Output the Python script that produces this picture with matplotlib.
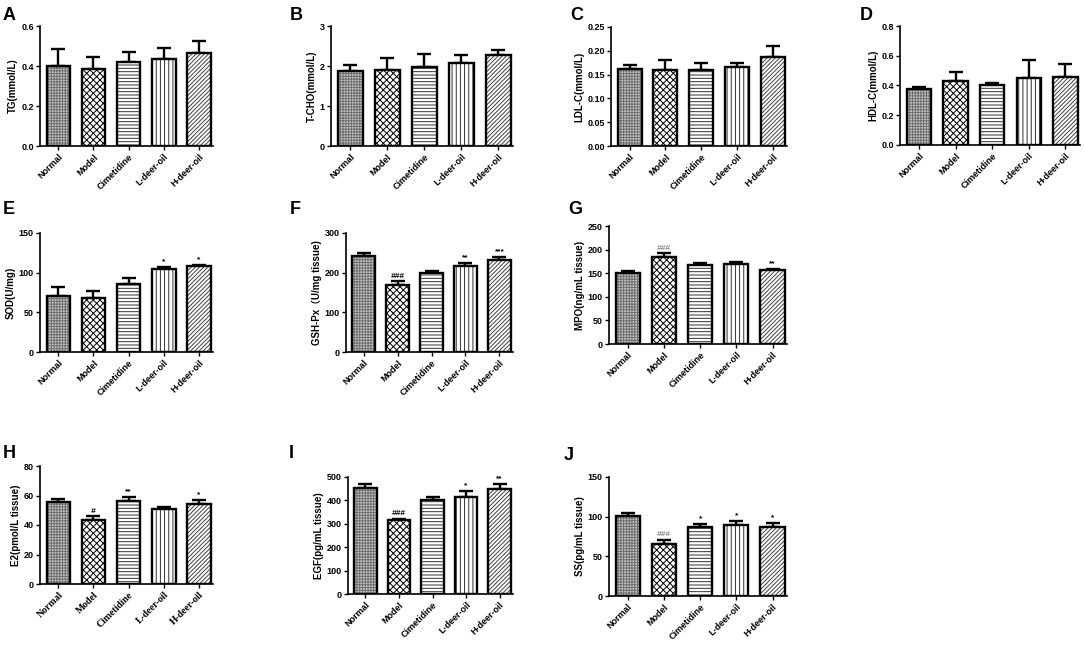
import numpy as np
import matplotlib
matplotlib.use('Agg')
import matplotlib.pyplot as plt

W, H = 1084, 645

groups = ['Normal', 'Model', 'Cimetidine', 'L-deer-oil', 'H-deer-oil']

# mean and upper error (SEM)
tg = [0.401, 0.383, 0.418, 0.435, 0.466]
tg_err = [0.082, 0.060, 0.053, 0.055, 0.060]
tcho = [1.88, 1.90, 1.97, 2.08, 2.27]
tcho_err = [0.14, 0.31, 0.34, 0.19, 0.14]
ldl = [0.161, 0.160, 0.159, 0.165, 0.186]
ldl_err = [0.010, 0.020, 0.016, 0.010, 0.024]
hdl = [0.378, 0.433, 0.400, 0.448, 0.455]
hdl_err = [0.010, 0.057, 0.020, 0.126, 0.090]
sod = [70.0, 68.0, 86.0, 104.0, 108.0]
sod_err = [12.5, 8.5, 7.0, 3.0, 2.0]
gsh = [241.0, 170.0, 200.0, 217.0, 233.0]
gsh_err = [8.0, 8.0, 5.0, 7.0, 6.0]
mpo = [151.0, 184.0, 168.0, 169.0, 156.0]
mpo_err = [3.0, 8.0, 4.0, 4.0, 2.0]
e2 = [55.7, 43.7, 56.5, 51.0, 54.5]
e2_err = [2.0, 2.2, 2.7, 1.0, 2.4]
egf = [455.0, 315.0, 400.0, 415.0, 449.0]
egf_err = [14.0, 7.0, 14.0, 24.0, 20.0]
ss = [100.5, 66.0, 87.5, 89.5, 87.5]
ss_err = [3.5, 5.0, 3.5, 5.5, 4.5]

sod_marks = ['', '', '', '*', '*']
gsh_marks = ['', '###', '', '**', '***']
mpo_marks = ['', '###', '', '', '**']
e2_marks = ['', '#', '**', '', '*']
egf_marks = ['', '###', '', '*', '**']
ss_marks = ['', '###', '*', '*', '*']

# fill, hatch, hatch colour for each group
styles = [('#c4c4c4', '++++++', '#6e6e6e'),
          ('white', 'xxxxx', 'black'),
          ('white', '-----', '#303030'),
          ('white', '||||', '#303030'),
          ('white', '////////', '#404040')]

plt.rcParams['hatch.linewidth'] = 0.7
sans = ['Liberation Sans', 'Noto Sans CJK SC', 'DejaVu Sans']
serif = ['Liberation Serif', 'DejaVu Serif']

fig = plt.figure(figsize=(W / 100, H / 100), dpi=100)


def px_axes(x0, y0, x1, y1):
    return fig.add_axes([x0 / W, 1 - y1 / H, (x1 - x0) / W, (y1 - y0) / H])


def panel(box, letter, lpos, ylabel, vals, errs, yticks, fmt, marks=None,
          mark_color='black', tick_family=None):
    ax = px_axes(*box)
    x = np.arange(len(groups))
    for i in range(len(groups)):
        fc, hatch, hc = styles[i]
        ax.bar(x[i], vals[i], width=0.67, color=fc, edgecolor=hc, hatch=hatch,
               linewidth=0, zorder=2)
        ax.bar(x[i], vals[i], width=0.67, fill=False, edgecolor='black',
               linewidth=1.7, zorder=3)
    ax.errorbar(x, vals, yerr=[np.zeros(len(vals)), errs], fmt='none',
                ecolor='black', elinewidth=1.7, capsize=5, capthick=1.7, zorder=1)
    ax.set_xlim(-0.52, 4.4)
    ax.set_ylim(0, yticks[-1])
    ax.set_yticks(yticks)
    ax.set_yticklabels([fmt % t for t in yticks], fontsize=6.5,
                       fontweight='bold', family=sans)
    ax.set_xticks(x)
    ax.set_xticklabels(groups, rotation=45, ha='right', rotation_mode='anchor',
                       fontsize=7 if tick_family else 6.5, fontweight='bold',
                       family=tick_family or sans)
    ax.set_ylabel(ylabel, fontsize=7, fontweight='bold', family=sans, labelpad=2)
    for s in ['top', 'right']:
        ax.spines[s].set_visible(False)
    for s in ['left', 'bottom']:
        ax.spines[s].set_linewidth(1.2)
    ax.tick_params(axis='both', length=3, width=1, pad=1.5)
    if marks:
        span = yticks[-1]
        for i in range(len(groups)):
            if marks[i]:
                hashes = marks[i].startswith('#')
                ax.text(x[i], vals[i] + errs[i] + span * 0.015, marks[i],
                        ha='center', va='bottom', fontsize=6,
                        fontweight='bold', family=sans,
                        color=mark_color if hashes else 'black',
                        style='italic' if hashes else 'normal')
    fig.text(lpos[0] / W, 1 - lpos[1] / H, letter, fontsize=13,
             fontweight='bold', family=sans, ha='left', va='center')
    return ax


panel((40, 26, 213, 146), 'A', (3, 15), 'TG(mmol/L)', tg, tg_err,
      [0, 0.2, 0.4, 0.6], '%.1f')
panel((331, 26, 513, 146), 'B', (290, 15), 'T-CHO(mmol/L)', tcho, tcho_err,
      [0, 1, 2, 3], '%d')
panel((611, 27, 787, 146), 'C', (570, 15), 'LDL-C(mmol/L)', ldl, ldl_err,
      [0, 0.05, 0.10, 0.15, 0.20, 0.25], '%.2f')
panel((900, 26, 1080, 145), 'D', (860, 15), 'HDL-C(mmol/L)', hdl, hdl_err,
      [0, 0.2, 0.4, 0.6, 0.8], '%.1f')

panel((40, 233, 213, 352), 'E', (3, 210), 'SOD(U/mg)', sod, sod_err,
      [0, 50, 100, 150], '%d', sod_marks)
panel((346, 233, 513, 352), 'F', (290, 210), 'GSH-Px（U/mg tissue)', gsh, gsh_err,
      [0, 100, 200, 300], '%d', gsh_marks)
panel((609, 226, 787, 344), 'G', (568, 210), 'MPO(ng/mL tissue)', mpo, mpo_err,
      [0, 50, 100, 150, 200, 250], '%d', mpo_marks, mark_color='#8a8a8a')

panel((40, 466, 213, 584), 'H', (3, 454), 'E2(pmol/L tissue)', e2, e2_err,
      [0, 20, 40, 60, 80], '%d', e2_marks, tick_family=serif)
panel((348, 477, 513, 594), 'I', (289, 454), 'EGF(pg/mL tissue)', egf, egf_err,
      [0, 100, 200, 300, 400, 500], '%d', egf_marks)
panel((609, 477, 787, 596), 'J', (564, 456), 'SS(pg/mL tissue)', ss, ss_err,
      [0, 50, 100, 150], '%d', ss_marks, mark_color='#8a8a8a')

fig.savefig('out.png', dpi=100)
